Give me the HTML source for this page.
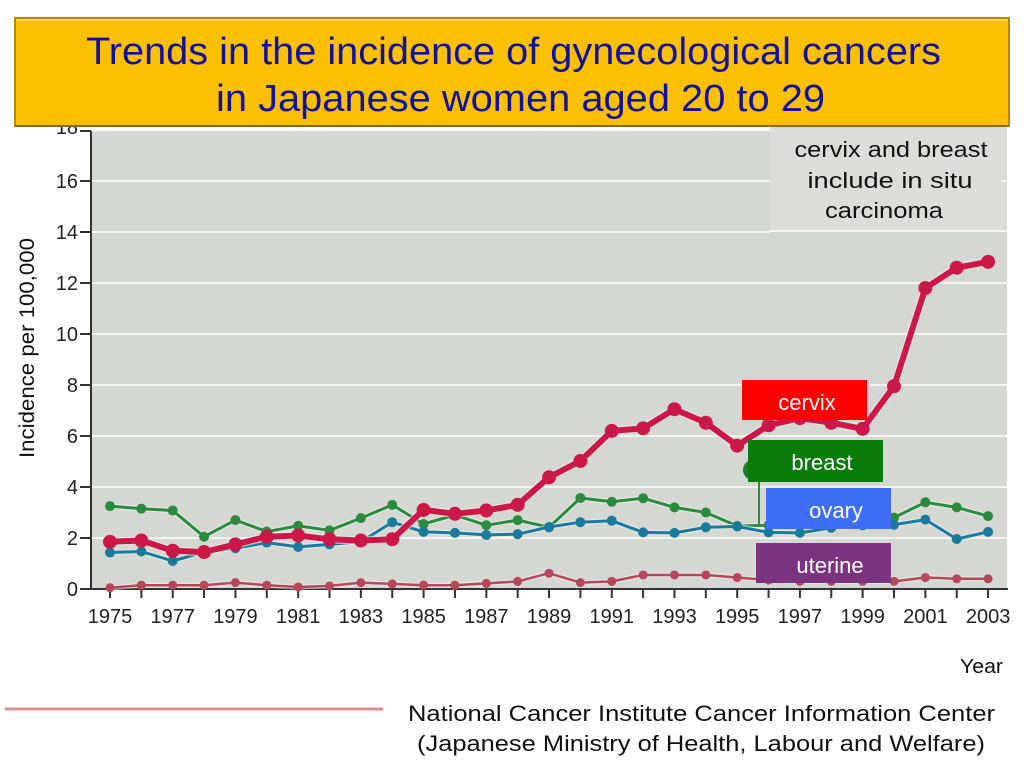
<!DOCTYPE html>
<html><head><meta charset="utf-8"><style>
html,body{margin:0;padding:0;background:#fff;}
svg{display:block;}
text{font-family:"Liberation Sans",Arial,sans-serif;}
</style></head><body>
<svg width="1024" height="768" viewBox="0 0 1024 768" xmlns="http://www.w3.org/2000/svg">
<rect x="0" y="0" width="1024" height="768" fill="#fff"/>
<!-- plot area -->
<rect x="92" y="131" width="915" height="458" fill="#d5d7d3"/>
<rect x="770" y="127" width="237" height="103" fill="#dcdcdb"/>
<g stroke="#f3f4f2" stroke-width="2">
<line x1="92" y1="538" x2="1007" y2="538"/>
<line x1="92" y1="487" x2="1007" y2="487"/>
<line x1="92" y1="436" x2="1007" y2="436"/>
<line x1="92" y1="385" x2="1007" y2="385"/>
<line x1="92" y1="334" x2="1007" y2="334"/>
<line x1="92" y1="283" x2="1007" y2="283"/>
<line x1="92" y1="232" x2="770" y2="232"/>
<line x1="770" y1="231" x2="1007" y2="231"/>
<line x1="92" y1="181" x2="770" y2="181"/>
<line x1="1001" y1="181" x2="1007" y2="181"/>
</g>
<!-- axes -->
<g stroke="#333" stroke-width="2">
<line x1="91" y1="131" x2="91" y2="590"/>
<line x1="90" y1="589" x2="1008" y2="589"/>
<line x1="80" y1="589" x2="91" y2="589"/>
<line x1="80" y1="538" x2="91" y2="538"/>
<line x1="80" y1="487" x2="91" y2="487"/>
<line x1="80" y1="436" x2="91" y2="436"/>
<line x1="80" y1="385" x2="91" y2="385"/>
<line x1="80" y1="334" x2="91" y2="334"/>
<line x1="80" y1="283" x2="91" y2="283"/>
<line x1="80" y1="232" x2="91" y2="232"/>
<line x1="80" y1="181" x2="91" y2="181"/>
<line x1="80" y1="131" x2="91" y2="131"/>
</g>
<g stroke="#333" stroke-width="2" id="xt"></g>
<g font-size="20" fill="#222" text-anchor="end">
<text x="78" y="596">0</text>
<text x="78" y="545">2</text>
<text x="78" y="494">4</text>
<text x="78" y="443">6</text>
<text x="78" y="392">8</text>
<text x="78" y="341">10</text>
<text x="78" y="290">12</text>
<text x="78" y="239">14</text>
<text x="78" y="188">16</text>
<text x="78" y="134">18</text>
</g>
<g font-size="20" fill="#222" text-anchor="middle" id="xl"></g>
<text x="0" y="0" font-size="21" fill="#111" text-anchor="middle" transform="translate(34,348) rotate(-90)" textLength="220" lengthAdjust="spacingAndGlyphs">Incidence per 100,000</text>
<!-- series -->
<g id="series"></g>
<!-- labels -->
<rect x="742" y="380" width="125" height="40" fill="#ff0000"/>
<text x="807" y="410" font-size="22" fill="#fff" text-anchor="middle">cervix</text>
<line x1="759" y1="480" x2="759" y2="526" stroke="#2a8a3e" stroke-width="2"/>
<circle cx="753" cy="470" r="10" fill="#1f7a2a"/>
<rect x="748" y="440" width="135" height="42" fill="#0b7b0b"/>
<text x="822" y="470" font-size="22" fill="#fff" text-anchor="middle">breast</text>
<rect x="766" y="488" width="125" height="41" fill="#3d6ef5"/>
<text x="836" y="518" font-size="22" fill="#fff" text-anchor="middle">ovary</text>
<rect x="756" y="543" width="135" height="40" fill="#7b3580"/>
<text x="830" y="573" font-size="22" fill="#fff" text-anchor="middle">uterine</text>
<!-- note -->
<g font-size="22" fill="#111" text-anchor="middle">
<text x="891" y="157" textLength="193" lengthAdjust="spacingAndGlyphs">cervix and breast</text>
<text x="890" y="188" textLength="165" lengthAdjust="spacingAndGlyphs">include in situ</text>
<text x="884" y="218" textLength="118" lengthAdjust="spacingAndGlyphs">carcinoma</text>
</g>
<!-- title -->
<rect x="15" y="18" width="994" height="108" fill="#fbc002" stroke="#b88a0c" stroke-width="2"/>
<line x1="16" y1="20" x2="1008" y2="20" stroke="#ffd84a" stroke-width="2"/>
<line x1="15" y1="126" x2="1009" y2="126" stroke="#8a6a10" stroke-width="2"/>
<g font-size="38" fill="#11119c">
<text x="86" y="64" textLength="855" lengthAdjust="spacingAndGlyphs">Trends in the incidence of gynecological cancers</text>
<text x="216" y="111" textLength="609" lengthAdjust="spacingAndGlyphs">in Japanese women aged 20 to 29</text>
</g>
<!-- footer -->
<text x="960" y="673" font-size="20" fill="#111" textLength="43" lengthAdjust="spacingAndGlyphs">Year</text>
<line x1="5" y1="709" x2="383" y2="709" stroke="#e08d96" stroke-width="3"/>
<text x="408" y="721" font-size="22" fill="#111" textLength="587" lengthAdjust="spacingAndGlyphs">National Cancer Institute Cancer Information Center</text>
<text x="417" y="751" font-size="22" fill="#111" textLength="568" lengthAdjust="spacingAndGlyphs">(Japanese Ministry of Health, Labour and Welfare)</text>
</svg>
<script>
(function(){
var NS="http://www.w3.org/2000/svg";
function X(i){return 110+i*31.36;}
function Y(v){return 589-v*25.5;}
var xt=document.getElementById("xt"),xl=document.getElementById("xl");
for(var i=0;i<29;i++){
 var l=document.createElementNS(NS,"line");
 l.setAttribute("x1",X(i));l.setAttribute("x2",X(i));l.setAttribute("y1",589);l.setAttribute("y2",598);
 xt.appendChild(l);
 if(i%2==0){var t=document.createElementNS(NS,"text");t.setAttribute("x",X(i));t.setAttribute("y",623);t.textContent=String(1975+i);xl.appendChild(t);}
}
var S=[
 {c:"#b5475a",w:2.5,r:4.5,d:[0.05,0.15,0.15,0.15,0.25,0.15,0.08,0.12,0.25,0.2,0.15,0.15,0.22,0.3,0.62,0.25,0.3,0.55,0.55,0.55,0.45,0.35,0.3,0.3,0.3,0.3,0.45,0.4,0.4]},
 {c:"#2a8a3e",w:3,r:5,d:[3.25,3.15,3.08,2.05,2.7,2.25,2.48,2.3,2.78,3.3,2.55,2.9,2.5,2.7,2.42,3.57,3.42,3.56,3.2,3.0,2.47,2.5,2.6,2.65,2.7,2.8,3.4,3.2,2.86]},
 {c:"#1a7a9c",w:3,r:5,d:[1.43,1.47,1.1,1.45,1.6,1.82,1.65,1.75,1.85,2.62,2.24,2.2,2.12,2.15,2.43,2.62,2.68,2.22,2.2,2.42,2.45,2.22,2.2,2.4,2.5,2.52,2.72,1.96,2.24]},
 {c:"#cc1848",w:6,r:7,d:[1.85,1.9,1.5,1.45,1.75,2.05,2.1,1.95,1.9,1.95,3.1,2.95,3.08,3.3,4.38,5.02,6.2,6.3,7.05,6.52,5.62,6.42,6.7,6.52,6.28,7.95,11.8,12.6,12.83]}
];
var g=document.getElementById("series");
S.forEach(function(s){
 var pts=s.d.map(function(v,i){return X(i).toFixed(1)+","+Y(v).toFixed(1);}).join(" ");
 var h=document.createElementNS(NS,"polyline");
 h.setAttribute("points",pts);h.setAttribute("fill","none");h.setAttribute("stroke","#eef0ee");h.setAttribute("stroke-width",s.w+2.5);h.setAttribute("stroke-linejoin","round");h.setAttribute("opacity","0.6");
 g.appendChild(h);
 var p=document.createElementNS(NS,"polyline");
 p.setAttribute("points",pts);p.setAttribute("fill","none");p.setAttribute("stroke",s.c);p.setAttribute("stroke-width",s.w);p.setAttribute("stroke-linejoin","round");
 g.appendChild(p);
 s.d.forEach(function(v,i){var c=document.createElementNS(NS,"circle");c.setAttribute("cx",X(i));c.setAttribute("cy",Y(v));c.setAttribute("r",s.r);c.setAttribute("fill",s.c);g.appendChild(c);});
});
})();
</script>
</body></html>
